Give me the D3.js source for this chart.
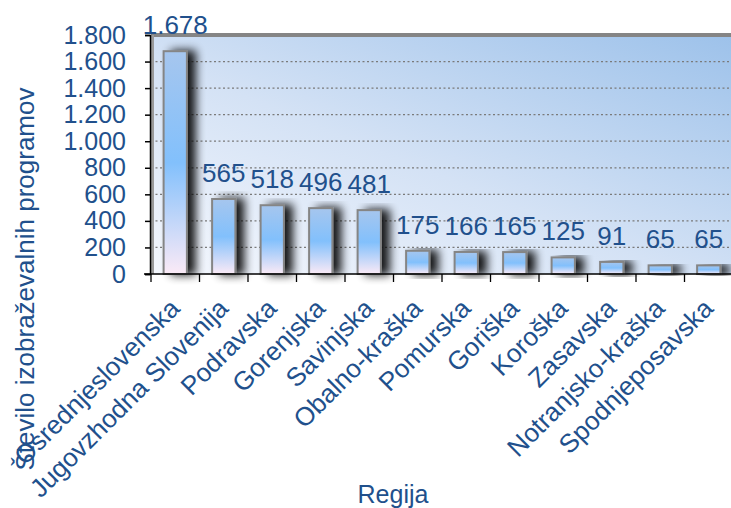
<!DOCTYPE html>
<html>
<head>
<meta charset="utf-8">
<script src="https://cdn.jsdelivr.net/npm/d3@7"></script>
<style>
  body { margin: 0; background: #fff; }
  svg { display: block; font-family: "Liberation Sans", Arial, sans-serif; }
</style>
</head>
<body>
<div id="chart"></div>
<script>
const regions = ["Osrednjeslovenska", "Jugovzhodna Slovenija", "Podravska", "Gorenjska", "Savinjska",
    "Obalno-kraška", "Pomurska", "Goriška", "Koroška", "Zasavska", "Notranjsko-kraška", "Spodnjeposavska"];
const programs = [1678, 565, 518, 496, 481, 175, 166, 165, 125, 91, 65, 65];
const yTicks = [0, 200, 400, 600, 800, 1000, 1200, 1400, 1600, 1800];

const width = 731;
const height = 508;
const plotLeft = 151, plotRight = 733, plotTop = 35, plotBottom = 274;
const textColor = "#21508c";

const fmt = v => d3.format(",")(v).replace(/,/g, ".");

const svg = d3.select("#chart")
    .append("svg")
    .attr("width", width)
    .attr("height", height);

const defs = svg.append("defs");

// plot background gradient
const bg = defs.append("linearGradient")
    .attr("id", "bg")
    .attr("x1", "0").attr("y1", "1").attr("x2", "1").attr("y2", "0");
bg.append("stop").attr("offset", "0%").attr("stop-color", "#f4f7fd");
bg.append("stop").attr("offset", "45%").attr("stop-color", "#d4e2f5");
bg.append("stop").attr("offset", "100%").attr("stop-color", "#9cc1ea");

// bar gradient
const bar = defs.append("linearGradient")
    .attr("id", "bar")
    .attr("x1", "0").attr("y1", "0").attr("x2", "0").attr("y2", "1");
bar.append("stop").attr("offset", "0%").attr("stop-color", "#a6c6ee");
bar.append("stop").attr("offset", "50%").attr("stop-color", "#82c0fc");
bar.append("stop").attr("offset", "100%").attr("stop-color", "#fbeaf6");

// shadow behind bars
const shadow = defs.append("filter")
    .attr("id", "shadow")
    .attr("x", "-50%").attr("y", "-10%").attr("width", "250%").attr("height", "130%");
shadow.append("feGaussianBlur").attr("in", "SourceAlpha").attr("stdDeviation", 5);
shadow.append("feOffset").attr("dx", 8).attr("dy", 0).attr("result", "blur");
shadow.append("feComponentTransfer").append("feFuncA").attr("type", "linear").attr("slope", 0.9);
const merge = shadow.append("feMerge");
merge.append("feMergeNode");
merge.append("feMergeNode").attr("in", "SourceGraphic");

const x = d3.scaleBand()
    .domain(regions)
    .range([plotLeft, plotRight]);

const y = d3.scaleLinear()
    .domain([0, 1800])
    .range([plotBottom, plotTop]);

// plot area
svg.append("rect")
    .attr("x", plotLeft)
    .attr("y", y(1800))
    .attr("width", plotRight - plotLeft + 10)
    .attr("height", plotBottom - y(1800))
    .attr("fill", "url(#bg)");

// gridlines
svg.selectAll(".grid")
    .data(yTicks.filter(d => d > 0 && d < 1800))
    .join("line")
    .attr("x1", plotLeft)
    .attr("x2", plotRight)
    .attr("y1", d => y(d))
    .attr("y2", d => y(d))
    .attr("stroke", "#7a7a7a")
    .attr("stroke-width", 1.3)
    .attr("stroke-dasharray", "2,2.5");

// frame (top + left grey borders)
svg.append("line")
    .attr("x1", plotLeft).attr("x2", width)
    .attr("y1", y(1800)).attr("y2", y(1800))
    .attr("stroke", "#858585").attr("stroke-width", 4);
svg.append("line")
    .attr("x1", plotLeft + 1.5).attr("x2", plotLeft + 1.5)
    .attr("y1", y(1800)).attr("y2", plotBottom)
    .attr("stroke", "#9a9a9a").attr("stroke-width", 3);

// bars
const bw = x.bandwidth() * 0.48;
svg.selectAll(".bar")
    .data(programs)
    .join("rect")
    .attr("x", (d, i) => x(regions[i]) + x.bandwidth() / 2 - bw / 2)
    .attr("y", d => y(d))
    .attr("width", bw)
    .attr("height", d => plotBottom - y(d))
    .attr("fill", "url(#bar)")
    .attr("stroke", "#858585")
    .attr("stroke-width", 2)
    .attr("filter", "url(#shadow)");

// value labels
svg.selectAll(".val")
    .data(programs)
    .join("text")
    .attr("x", (d, i) => x(regions[i]) + x.bandwidth() / 2)
    .attr("y", d => y(d) - 17)
    .attr("text-anchor", "middle")
    .attr("font-size", "26px")
    .attr("fill", textColor)
    .text(d => fmt(d));

// y axis
const yAxis = d3.axisLeft(y)
    .tickValues(yTicks)
    .tickFormat(fmt)
    .tickSize(5)
    .tickPadding(19);
const gy = svg.append("g")
    .attr("transform", `translate(${plotLeft - 1},0)`)
    .call(yAxis);
gy.select(".domain").attr("stroke", "#000").attr("stroke-width", 1.5);
gy.selectAll(".tick line").attr("stroke", "#000").attr("stroke-width", 1.5);
gy.selectAll("text")
    .attr("font-size", "25px")
    .attr("font-family", "Liberation Sans, Arial, sans-serif")
    .attr("fill", textColor);

// x axis
const gx = svg.append("g")
    .attr("transform", `translate(0,${plotBottom})`);
gx.append("line")
    .attr("x1", plotLeft - 7).attr("x2", width)
    .attr("stroke", "#000").attr("stroke-width", 1.5);
gx.selectAll(".xt")
    .data(regions)
    .join("line")
    .attr("x1", d => x(d))
    .attr("x2", d => x(d))
    .attr("y1", 0)
    .attr("y2", 8)
    .attr("stroke", "#000")
    .attr("stroke-width", 1.3);
gx.selectAll(".xl")
    .data(regions)
    .join("text")
    .attr("transform", d => `translate(${x(d) + x.bandwidth() / 2 + 6},${36}) rotate(-45)`)
    .attr("text-anchor", "end")
    .attr("font-size", "26px")
    .attr("fill", textColor)
    .text(d => d);

// axis titles
svg.append("text")
    .attr("transform", `translate(34,${279}) rotate(-90)`)
    .attr("text-anchor", "middle")
    .attr("font-size", "26px")
    .attr("fill", textColor)
    .text("Število izobraževalnih programov");

svg.append("text")
    .attr("x", 393)
    .attr("y", 503)
    .attr("text-anchor", "middle")
    .attr("font-size", "25px")
    .attr("fill", textColor)
    .text("Regija");
</script>
</body>
</html>
